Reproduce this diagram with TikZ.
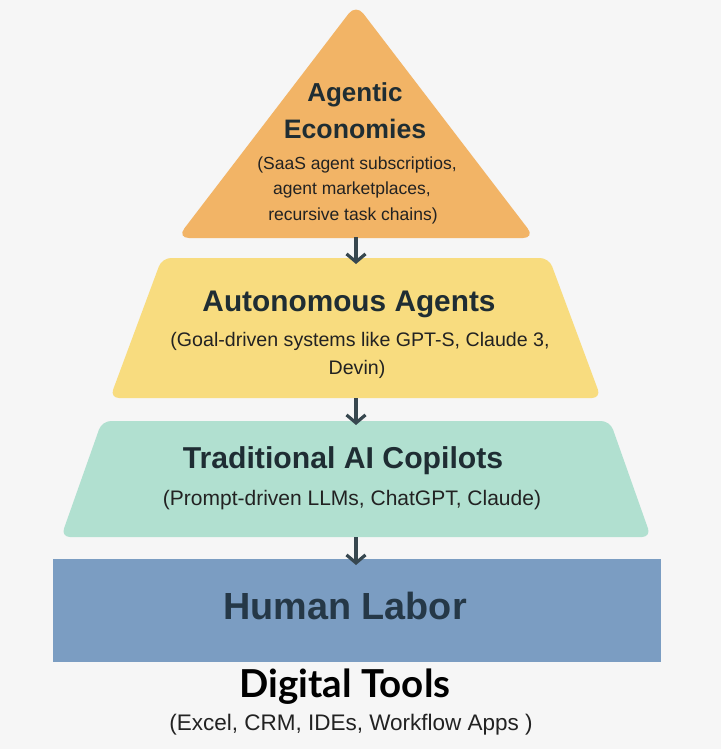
\documentclass[tikz,border=0pt]{standalone}
\usepackage{fontspec}
\setmainfont{Liberation Sans}
\newfontfamily\dtfont{Lato}
\usetikzlibrary{arrows.meta}
\definecolor{bgc}{HTML}{F6F6F6}
\definecolor{orangec}{HTML}{F2B466}
\definecolor{yellowc}{HTML}{F8DC7F}
\definecolor{greenc}{HTML}{B1E0D0}
\definecolor{bluec}{HTML}{7B9DC2}
\definecolor{titlec}{HTML}{1F2D33}
\definecolor{subc}{HTML}{222222}
\definecolor{humanc}{HTML}{253847}
\definecolor{arrowc}{HTML}{37474F}
\tikzset{
  titletext/.style={anchor=base, inner sep=0pt, text=titlec, font=\bfseries\fontsize{29.8}{33}\selectfont},
  subtext/.style={anchor=base, inner sep=0pt, text=subc, font=\fontsize{19.6}{22}\selectfont},
  flowarrow/.style={draw=arrowc, line width=3.2pt, -{Straight Barb[length=8pt,width=19pt]}},
}
\begin{document}
\begin{tikzpicture}[x=1pt,y=-1pt]
\useasboundingbox[fill=bgc] (0,0) rectangle (721,749);
% shapes
\fill[orangec, rounded corners=12pt] (356,238) -- (535,238) -- (356,4) -- (177,238) -- cycle;
\fill[yellowc, rounded corners=9pt] (355,258) -- (549,258) -- (601,398) -- (110,398) -- (162,258) -- cycle;
\fill[greenc, rounded corners=9pt] (356,421) -- (610,421) -- (651,537) -- (61,537) -- (102,421) -- cycle;
\fill[bluec] (53,559) rectangle (661,662);
% texts
\node[titletext, font=\bfseries\fontsize{26}{30}\selectfont] (econA) at (355,102) {Agentic};
\node[titletext, font=\bfseries\fontsize{26.7}{30}\selectfont] (econB) at (355,139) {Economies};
\node[subtext, font=\fontsize{17.5}{21}\selectfont] (econC) at (357,169) {(SaaS agent subscriptios,};
\node[subtext, font=\fontsize{17.5}{21}\selectfont] (econD) at (352,194) {agent marketplaces,};
\node[subtext, font=\fontsize{17.5}{21}\selectfont] (econE) at (353,220) {recursive task chains)};
\node[titletext] (autoA) at (349,311) {Autonomous Agents};
\node[subtext] (autoB) at (360,346) {(Goal-driven systems like GPT-S, Claude 3,};
\node[subtext] (autoC) at (357,374) {Devin)};
\node[titletext, font=\bfseries\fontsize{30.2}{33}\selectfont] (tradA) at (343,468) {Traditional AI Copilots};
\node[subtext, font=\fontsize{21}{24}\selectfont] (tradB) at (352,505) {(Prompt-driven LLMs, ChatGPT, Claude)};
\node[titletext, text=humanc, font=\bfseries\fontsize{37.8}{40}\selectfont] (human) at (345,619) {Human Labor};
\node[anchor=base, inner sep=0pt, text=black, font=\dtfont\bfseries\fontsize{38.5}{42}\selectfont] (tools) at (345,697) {Digital Tools};
\node[subtext, font=\fontsize{22.5}{26}\selectfont] (toolsB) at (351,730) {(Excel, CRM, IDEs, Workflow Apps )};
% connector coordinates
\coordinate (econBase) at (356,237);
\coordinate (autoTop) at (356,264);
\coordinate (autoBase) at (356,398);
\coordinate (tradTop) at (356,425);
\coordinate (tradBase) at (356,537);
\coordinate (humanTop) at (356,565);
\draw[flowarrow] (econBase) -- (autoTop);
\draw[flowarrow] (autoBase) -- (tradTop);
\draw[flowarrow] (tradBase) -- (humanTop);
\end{tikzpicture}
\end{document}
